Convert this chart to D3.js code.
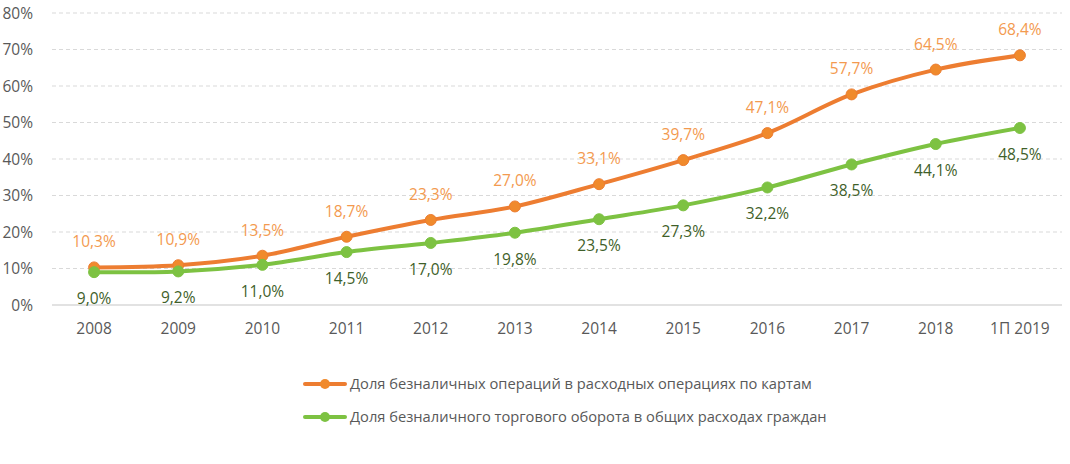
<!DOCTYPE html>
<html><head><meta charset="utf-8">
<script src="https://cdn.jsdelivr.net/npm/d3@7"></script>
<style>body{margin:0;background:#fff;} text{font-family:"Open Sans",sans-serif;}</style>
</head><body><svg id="c" width="1070" height="464"></svg>
<script>
const categories = ["2008","2009","2010","2011","2012","2013","2014","2015","2016","2017","2018","1П 2019"];
const cardOps = [10.3,10.9,13.5,18.7,23.3,27.0,33.1,39.7,47.1,57.7,64.5,68.4];
const retail = [9.0,9.2,11.0,14.5,17.0,19.8,23.5,27.3,32.2,38.5,44.1,48.5];
const yTicks = [0,10,20,30,40,50,60,70,80];
const seriesNames = ["Доля безналичных операций в расходных операциях по картам","Доля безналичного торгового оборота в общих расходах граждан"];

const svg = d3.select("#c");
const x = d3.scalePoint().domain(categories).range([52,1062]).padding(0.5);
const y = d3.scaleLinear().domain([0,80]).range([305,13]);
const fmt = v => v.toFixed(1).replace(".", ",") + "%";

// grid
svg.append("g").selectAll("line").data(yTicks.filter(d=>d>0)).join("line")
  .attr("x1",52).attr("x2",1062).attr("y1",d=>y(d)).attr("y2",d=>y(d))
  .attr("stroke","#d9d9d9").attr("stroke-width",1).attr("stroke-dasharray","4,3");
svg.append("line").attr("x1",52).attr("x2",1062).attr("y1",y(0)).attr("y2",y(0))
  .attr("stroke","#d9d9d9").attr("stroke-width",1.5);

// y labels
svg.append("g").selectAll("text").data(yTicks).join("text")
  .attr("x",33).attr("y",d=>y(d)+5.5).attr("text-anchor","end")
  .attr("font-size",15.5).attr("fill","#595959").text(d=>d+"%");
// x labels
svg.append("g").selectAll("text").data(categories).join("text")
  .attr("x",d=>x(d)).attr("y",334).attr("text-anchor","middle")
  .attr("font-size",15.5).attr("fill","#595959").text(d=>d);

const series = [
  {vals: cardOps, color:"#ED7D31", marker:"#F08A2C", label:"#F39A4F", dy:-20},
  {vals: retail, color:"#7DC242", marker:"#7DC242", label:"#3F5F2A", dy:32}
];
const line = d3.line().x((d,i)=>x(categories[i])).y(d=>y(d)).curve(d3.curveCatmullRom.alpha(0.5));
series.forEach(s=>{
  svg.append("path").attr("d",line(s.vals)).attr("fill","none")
    .attr("stroke",s.color).attr("stroke-width",4).attr("stroke-linejoin","round");
});
series.forEach(s=>{
  svg.append("g").selectAll("circle").data(s.vals).join("circle")
    .attr("cx",(d,i)=>x(categories[i])).attr("cy",d=>y(d)).attr("r",5.5)
    .attr("fill",s.marker).attr("stroke",s.color).attr("stroke-width",1);
  svg.append("g").selectAll("text").data(s.vals).join("text")
    .attr("x",(d,i)=>x(categories[i])).attr("y",d=>y(d)+s.dy)
    .attr("text-anchor","middle").attr("font-size",15.5).attr("fill",s.label).text(fmt);
});

// legend
const legY = [384,417];
series.forEach((s,i)=>{
  const g = svg.append("g");
  g.append("line").attr("x1",305).attr("x2",345).attr("y1",legY[i]).attr("y2",legY[i])
    .attr("stroke",s.color).attr("stroke-width",4).attr("stroke-linecap","round");
  g.append("circle").attr("cx",325).attr("cy",legY[i]).attr("r",5).attr("fill",s.marker);
  g.append("text").attr("x",350).attr("y",legY[i]+5).attr("font-size",14.7).attr("fill","#595959").text(seriesNames[i]);
});
</script></body></html>
